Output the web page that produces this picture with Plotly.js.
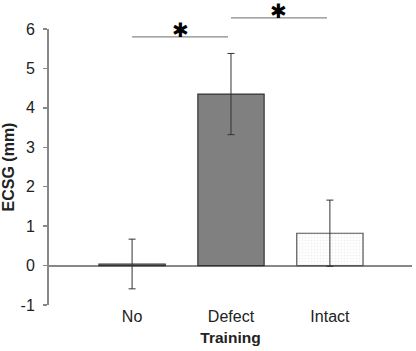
<!DOCTYPE html>
<html>
<head>
<meta charset="utf-8">
<script src="https://cdn.plot.ly/plotly-3.0.1.min.js"></script>
<style>
  html, body { margin: 0; padding: 0; background: #fff; }
  #chart { width: 416px; height: 351px; }
</style>
</head>
<body>
<div id="chart"></div>
<script>
// categories and values
var groups = ['No', 'Defect', 'Intact'];
var groupPos = [0, 1, 2];
var ecsg = [0.04, 4.35, 0.82];
var ecsgErr = [0.63, 1.03, 0.84];

// y ticks (plain hyphen, as in the original)
var yTicks = [-1, 0, 1, 2, 3, 4, 5, 6];
var yTickText = ['-1', '0', '1', '2', '3', '4', '5', '6'];

// significance brackets: [from, to, height]
var sigFrom = [0, 1];
var sigTo = [0.97, 1.97];
var sigLevel = [5.8, 6.28];
var sigStarY = [6.33, 6.81];

var yRange = [-1, 6];
var xRange = [-0.84, 2.83];

function toPaper(v) {
  return (v - yRange[0]) / (yRange[1] - yRange[0]);
}

var bars = {
  x: groupPos,
  y: ecsg,
  type: 'bar',
  width: 0.67,
  marker: {
    color: ['#7f7f7f', '#808080', '#f2f2f2'],
    line: { color: ['#333', '#333', '#555'], width: 1.2 },
    pattern: {
      shape: ['', '', '.'],
      fgcolor: '#8a8a8a',
      bgcolor: '#f4f4f4',
      size: 3,
      solidity: 0.35
    }
  },
  error_y: {
    type: 'data',
    array: ecsgErr,
    visible: true,
    color: '#333',
    thickness: 1,
    width: 3.5
  },
  hoverinfo: 'x+y'
};

var shapes = [];
var annotations = [];
for (var i = 0; i < sigFrom.length; i++) {
  shapes.push({
    type: 'line',
    xref: 'x', yref: 'paper',
    x0: sigFrom[i], x1: sigTo[i],
    y0: toPaper(sigLevel[i]), y1: toPaper(sigLevel[i]),
    line: { color: '#888', width: 1.2 }
  });
  annotations.push({
    x: (sigFrom[i] + sigTo[i]) / 2,
    y: toPaper(sigStarY[i]),
    xref: 'x', yref: 'paper',
    text: '✱',
    showarrow: false,
    font: { family: 'DejaVu Sans', size: 20, color: '#000' }
  });
}

var layout = {
  width: 416,
  height: 351,
  margin: { l: 49, r: 4, t: 29, b: 46 },
  paper_bgcolor: '#fff',
  plot_bgcolor: '#fff',
  showlegend: false,
  font: { family: 'Liberation Sans, Arial, sans-serif', color: '#222' },
  xaxis: {
    range: xRange,
    tickvals: groupPos,
    ticktext: groups,
    showline: false,
    showgrid: false,
    zeroline: false,
    ticks: '',
    tickfont: { size: 16, color: '#222' },
    title: {
      text: '<b>Training</b>',
      font: { size: 15.5, color: '#222' },
      standoff: 8
    }
  },
  yaxis: {
    range: yRange,
    tickvals: yTicks,
    ticktext: yTickText,
    showline: true,
    linecolor: '#888',
    linewidth: 2,
    ticks: 'outside',
    ticklen: 4,
    tickwidth: 1.5,
    tickcolor: '#888',
    ticklabelstandoff: 5,
    showgrid: false,
    zeroline: true,
    zerolinecolor: '#888',
    zerolinewidth: 2,
    tickfont: { size: 16, color: '#222' },
    title: {
      text: '<b>ECSG (mm)</b>',
      font: { size: 16, color: '#222' },
      standoff: 3
    }
  },
  shapes: shapes,
  annotations: annotations
};

Plotly.newPlot('chart', [bars], layout, { displayModeBar: false, staticPlot: true });
</script>
</body>
</html>
